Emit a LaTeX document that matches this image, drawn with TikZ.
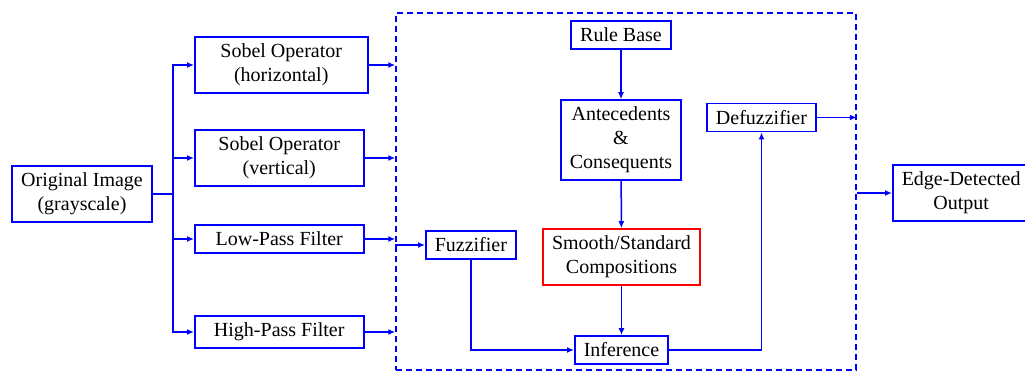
\documentclass[tikz,border=0pt]{standalone}
\usepackage{fontspec}
\setmainfont{Liberation Serif}
\usetikzlibrary{positioning,arrows.meta}

\tikzset{
	block/.style={draw=blue,line width=0.75pt,align=center,inner xsep=4.5pt,inner ysep=3.5pt,font=\rmfamily\fontsize{10}{12}\selectfont},
	filterblock/.style={block,minimum width=84.5pt,anchor=west},
	link/.style={draw=blue,line width=0.75pt},
	arrow/.style={link,-{Latex[length=3.5pt,width=3pt]}}
}

\begin{document}
\begin{tikzpicture}[x=0.5pt,y=-0.5pt]
		\useasboundingbox (0,0) rectangle (1025,372);
		\node[block] (orig) at (82,194) {Original Image\\(grayscale)};
		\node[filterblock,minimum width=86.5pt] (sobh) at (194,65) {Sobel Operator\\(horizontal)};
		\node[filterblock] (sobv) at (194,158) {Sobel Operator\\(vertical)};
		\node[filterblock] (lpf) at (194,239) {Low-Pass Filter};
		\node[filterblock] (hpf) at (194,332) {High-Pass Filter};
		\coordinate (split) at (173,194);

		\node[draw=blue,line width=0.75pt,dash pattern=on 3pt off 2pt,minimum width=230pt,minimum height=178.5pt] (fis) at (626,191.5) {};
		\node[block,anchor=west] (fuzz) at (425,245) {Fuzzifier};
		\node[block] (rules) at (621,35) {Rule Base};
		\node[block] (ante) at (621,140) {Antecedents\\\&\\Consequents};
		\node[block,draw=red] (comp) at (621.5,257) {Smooth/Standard\\Compositions};
		\node[block] (infer) at (621.5,350) {Inference};
		\node[block] (defuzz) at (761.5,117.5) {Defuzzifier};
		\node[block,anchor=west] (edge) at (892,193) {Edge-Detected\\Output};

		\draw[link] (orig.east) -- (split);
		\foreach \f in {sobh,sobv,lpf,hpf}{
			\draw[arrow] (split) |- (\f.west);
			\draw[arrow] (\f.east) -- (\f.east -| fis.west);
		}
		\draw[arrow] (fis.west |- fuzz) -- (fuzz.west);
		\draw[arrow] (rules) -- (ante);
		\draw[arrow] (ante) -- (comp);
		\draw[arrow] (comp) -- (infer);
		\draw[arrow] (fuzz.south) |- (infer.west);
		\draw[arrow] (infer.east) -| (defuzz.south);
		\draw[arrow] (defuzz.east) -- (defuzz.east -| fis.east);
		\draw[arrow] (fis.east |- edge) -- (edge.west);
	\end{tikzpicture}
\end{document}
